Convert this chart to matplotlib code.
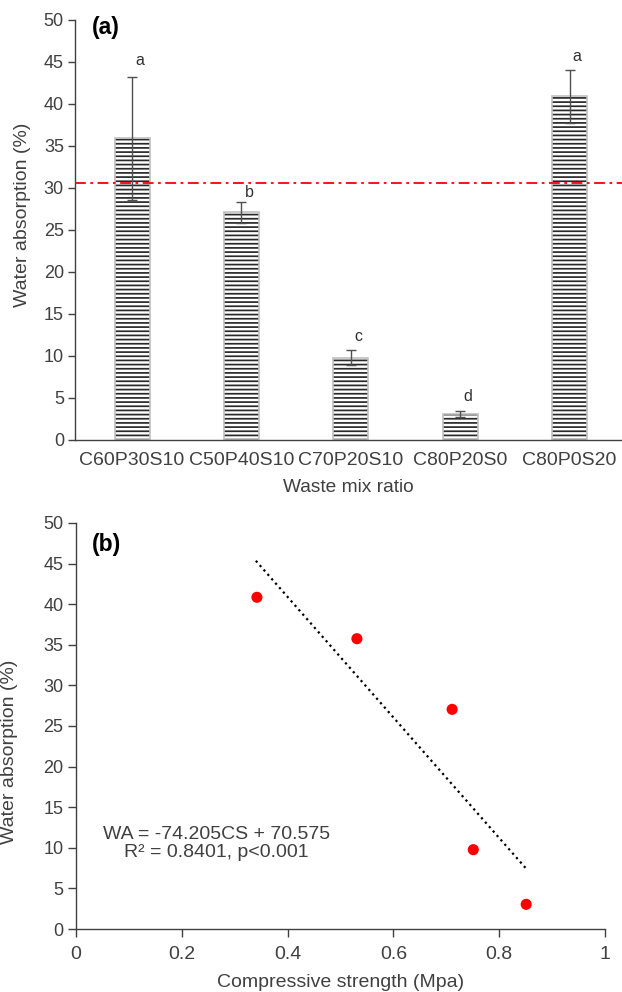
import numpy as np
import matplotlib
matplotlib.use("Agg")
import matplotlib.pyplot as plt

plt.rcParams["font.family"] = ["Liberation Sans", "DejaVu Sans"]
plt.rcParams["hatch.linewidth"] = 1.25

# panel (a): water absorption per mix
mixes = ["C60P30S10", "C50P40S10", "C70P20S10", "C80P20S0", "C80P0S20"]
wa_mean = [35.9, 27.1, 9.8, 3.1, 40.9]
wa_err = [7.3, 1.25, 0.9, 0.4, 3.15]
groups = ["a", "b", "c", "d", "a"]
group_y = [45.2, 29.4, 12.3, 5.2, 45.7]
limit_line = 30.6

# panel (b): water absorption vs compressive strength
cs = [0.342, 0.531, 0.711, 0.751, 0.851]
wa = [40.85, 35.75, 27.05, 9.77, 3.04]
slope, intercept = -74.205, 70.575
fit_range = [0.34, 0.852]

TXT = "#404040"

fig = plt.figure(figsize=(6.22, 9.92), dpi=100)

# ---- (a) bar chart ----
ax1 = fig.add_axes([0.1206, 0.5565, 0.8794, 0.4234])
x = np.arange(len(mixes))
# hatch lines in dark grey, outline in light grey
ax1.bar(x, wa_mean, width=0.32, color="white", edgecolor="#2a2a2a",
        linewidth=0, hatch="----", zorder=2)
ax1.bar(x, wa_mean, width=0.32, fill=False, edgecolor="#c0c0c0",
        linewidth=1.2, zorder=2.5)
ax1.errorbar(x, wa_mean, yerr=wa_err, fmt="none", ecolor="#505050",
             elinewidth=1.0, capsize=3.5, capthick=1.0, zorder=3)
ax1.axhline(limit_line, color="#ff0000", lw=1.3, ls=(0, (6, 2.5, 1.5, 2.5)), zorder=4)
for xi, g, gy in zip(x, groups, group_y):
    ax1.text(xi + 0.07, gy, g, ha="center", va="center", fontsize=11.5, color="#303030")
ax1.set_xlim(-0.521, 4.479)
ax1.set_ylim(0, 50)
ax1.set_yticks(range(0, 51, 5))
ax1.set_xticks(x)
ax1.set_xticklabels(mixes)
ax1.tick_params(axis="x", length=0, pad=9, labelsize=14, labelcolor=TXT)
ax1.tick_params(axis="y", direction="out", length=5, width=1, pad=3,
                labelsize=13, labelcolor=TXT, color=TXT)
ax1.set_xlabel("Waste mix ratio", fontsize=13.8, color=TXT, labelpad=7)
ax1.set_ylabel("Water absorption (%)", fontsize=14, color=TXT)
ax1.yaxis.set_label_coords(-0.080, 0.536)
for s in ["top", "right"]:
    ax1.spines[s].set_visible(False)
for s in ["left", "bottom"]:
    ax1.spines[s].set_color(TXT)
    ax1.spines[s].set_linewidth(1.0)
ax1.text(0.030, 0.982, "(a)", transform=ax1.transAxes, ha="left", va="center",
         fontsize=16.5, fontweight="bold", color="black")

# ---- (b) scatter with linear fit ----
ax2 = fig.add_axes([0.1222, 0.0635, 0.8505, 0.4093])
ax2.scatter(cs, wa, s=64, color="#ff0000", edgecolors="none", zorder=3)
fx = np.array(fit_range)
ax2.plot(fx, slope * fx + intercept, color="black", lw=1.6, ls=":", zorder=2)
ax2.text(0.265, 10.5, "WA = -74.205CS + 70.575\nR\u00b2 = 0.8401, p<0.001",
         ha="center", va="center", multialignment="center", fontsize=14,
         color=TXT, linespacing=1.1)
ax2.set_xlim(0, 1)
ax2.set_ylim(0, 50)
ax2.set_xticks([0, 0.2, 0.4, 0.6, 0.8, 1])
ax2.set_xticklabels(["0", "0.2", "0.4", "0.6", "0.8", "1"])
ax2.set_yticks(range(0, 51, 5))
ax2.tick_params(axis="x", direction="out", length=6, width=1, pad=6,
                labelsize=14, labelcolor=TXT, color=TXT)
ax2.tick_params(axis="y", direction="out", length=6, width=1, pad=3,
                labelsize=13, labelcolor=TXT, color=TXT)
ax2.set_xlabel("Compressive strength (Mpa)", fontsize=14, color=TXT, labelpad=8)
ax2.set_ylabel("Water absorption (%)", fontsize=14, color=TXT)
ax2.yaxis.set_label_coords(-0.110, 0.436)
for s in ["top", "right"]:
    ax2.spines[s].set_visible(False)
for s in ["left", "bottom"]:
    ax2.spines[s].set_color(TXT)
    ax2.spines[s].set_linewidth(1.0)
ax2.text(0.030, 0.946, "(b)", transform=ax2.transAxes, ha="left", va="center",
         fontsize=16.5, fontweight="bold", color="black")

fig.savefig("out.png", dpi=100)
